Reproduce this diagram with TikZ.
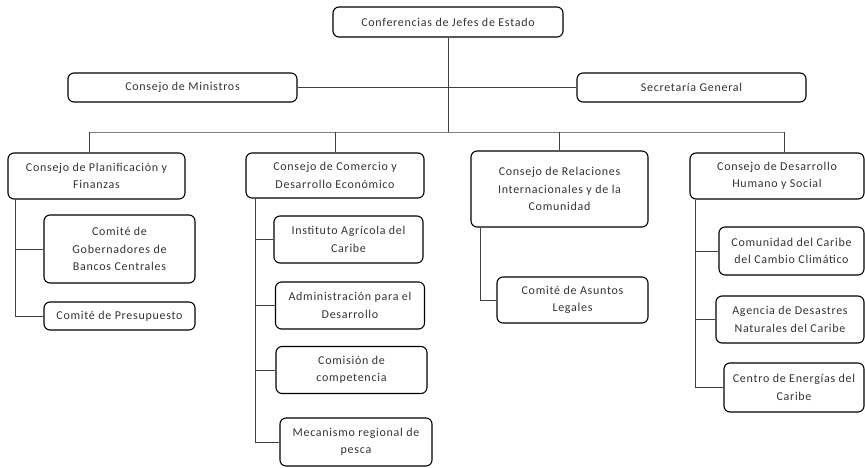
\documentclass[tikz,border=0pt]{standalone}
\usepackage{fontspec}
\setmainfont{Carlito}[LetterSpace=6]

\begin{document}
\begin{tikzpicture}[x=1pt,y=-1pt,
      caja/.style={draw,rounded corners=6pt,line width=1.1pt,align=center,
         inner sep=1pt,text=black!80,font=\fontsize{12}{17.5}\selectfont},
      linea/.style={draw=black!75,line width=0.7pt}]
   \useasboundingbox (0,0) rectangle (865,468);

   % cabeza
   \node [caja,minimum width=230,minimum height=30] (conf) at (448,22)
      {Conferencias de Jefes de Estado};
   \node [caja,minimum width=229,minimum height=29] (min) at (182.5,87.5)
      {Consejo de Ministros};
   \node [caja,minimum width=229,minimum height=29] (sec) at (691.5,87.5)
      {Secretaría General};

   % consejos
   \node [caja,minimum width=177,minimum height=46] (plan) at (96.5,176)
      {Consejo de Planificación y\\Finanzas};
   \node [caja,minimum width=178,minimum height=45] (com) at (335,175.5)
      {Consejo de Comercio y\\Desarrollo Económico};
   \node [caja,minimum width=177,minimum height=76] (rel) at (559.5,189)
      {Consejo de Relaciones\\Internacionales y de la\\Comunidad};
   \node [caja,minimum width=174,minimum height=46] (dh) at (777,176)
      {Consejo de Desarrollo\\Humano y Social};

   % organos
   \node [caja,minimum width=151,minimum height=68] (gob) at (119.5,249)
      {Comité de\\Gobernadores de\\Bancos Centrales};
   \node [caja,minimum width=151,minimum height=28] (pres) at (119.5,316)
      {Comité de Presupuesto};
   \node [caja,minimum width=149,minimum height=47] (inst) at (348.5,239.5)
      {Instituto Agrícola del\\Caribe};
   \node [caja,minimum width=149,minimum height=47] (adm) at (350,305.5)
      {Administración para el\\Desarrollo};
   \node [caja,minimum width=151,minimum height=47] (comi) at (351.5,370)
      {Comisión de\\competencia};
   \node [caja,minimum width=152,minimum height=48] (mec) at (356,442)
      {Mecanismo regional de\\pesca};
   \node [caja,minimum width=151,minimum height=46] (leg) at (572.5,300)
      {Comité de Asuntos\\Legales};
   \node [caja,minimum width=145,minimum height=48] (cc) at (791.5,251)
      {Comunidad del Caribe\\del Cambio Climático};
   \node [caja,minimum width=148,minimum height=47] (ag) at (790,319.5)
      {Agencia de Desastres\\Naturales del Caribe};
   \node [caja,minimum width=140,minimum height=49] (ce) at (794,387.5)
      {Centro de Energías del\\Caribe};

   % lineas
   \coordinate (busL) at (89,132);
   \coordinate (busR) at (784,132);
   \draw [linea] (min) -- (sec);
   \draw [linea] (conf) -- (conf |- busL);
   \draw [linea,draw=black!50] (busL) -- (busR);
   \draw [linea] (busL) -- (busL |- plan.north);
   \draw [linea] (com.north |- busL) -- (com.north);
   \draw [linea] (rel.north |- busL) -- (rel.north);
   \draw [linea] (busR) -- (busR |- dh.north);

   \draw [linea] ([xshift=8]plan.south west) |- (gob.west);
   \draw [linea] ([xshift=8]plan.south west) |- (pres.west);
   \foreach \n in {inst,adm,comi,mec}
      \draw [linea] ([xshift=10]com.south west) |- (\n.west);
   \draw [linea] ([xshift=10]rel.south west) |- (leg.west);
   \foreach \n in {cc,ag,ce}
      \draw [linea] ([xshift=6]dh.south west) |- (\n.west);
\end{tikzpicture}
\end{document}
